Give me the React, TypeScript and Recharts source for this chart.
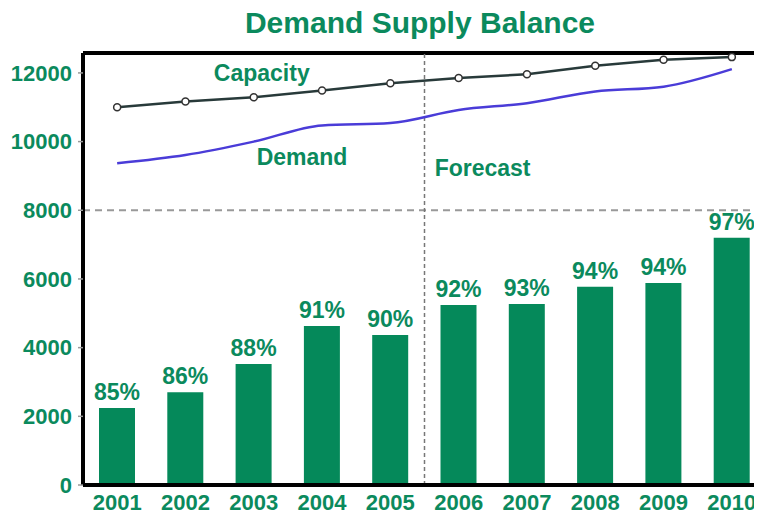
import React from "react";
import {
  Bar,
  ComposedChart,
  LabelList,
  Line,
  ReferenceDot,
  ReferenceLine,
  XAxis,
  YAxis
} from "recharts";

const years = ["2001", "2002", "2003", "2004", "2005", "2006", "2007", "2008", "2009", "2010"];
const production = [2240, 2700, 3520, 4630, 4370, 5240, 5270, 5770, 5880, 7200];
const utilization = [85, 86, 88, 91, 90, 92, 93, 94, 94, 97];
const capacity = [11000, 11170, 11290, 11490, 11700, 11850, 11960, 12210, 12380, 12460];
const demand = [9370, 9610, 10000, 10470, 10540, 10920, 11120, 11460, 11600, 12110];
const yTicks = [0, 2000, 4000, 6000, 8000, 10000, 12000];

const GREEN = "#0b8a5d";
const BAR_GREEN = "#05895a";
const FONT = '"Liberation Sans", Arial, sans-serif';
const Y_MAX = 12580;

const chartData = years.map((year, i) => ({
  year,
  production: production[i],
  pct: utilization[i],
  capacity: capacity[i],
  demand: demand[i]
}));

// text annotations anchored to data coordinates
function note(text: string, dx: number, anchor: "start" | "middle") {
  return (props: any) => (
    <text
      x={props.cx + dx}
      y={props.cy}
      dy="0.36em"
      textAnchor={anchor}
      fill={GREEN}
      fontSize={23}
      fontWeight="bold"
      fontFamily={FONT}
    >
      {text}
    </text>
  );
}

function PctLabel(props: any) {
  const { x, y, width, value } = props;
  return (
    <text
      x={x + width / 2}
      y={y - 8}
      textAnchor="middle"
      fill={GREEN}
      fontSize={23}
      fontWeight="bold"
      fontFamily={FONT}
    >
      {value}%
    </text>
  );
}

export default function App() {
  return (
    <div
      style={{
        margin: "-8px",
        position: "relative",
        width: 762,
        height: 518,
        overflow: "hidden",
        background: "#fff",
        fontFamily: FONT
      }}
    >
      <div
        style={{
          position: "absolute",
          left: 0,
          top: 8,
          width: 840,
          textAlign: "center",
          fontSize: 30,
          lineHeight: "30px",
          fontWeight: "bold",
          color: GREEN
        }}
      >
        Demand Supply Balance
      </div>
      <div style={{ position: "absolute", left: 0, top: 0 }}>
        <ComposedChart
          width={768}
          height={518}
          data={chartData}
          margin={{ top: 53, right: 2, left: 0, bottom: 0 }}
        >
          <XAxis
            dataKey="year"
            height={33}
            tickSize={0}
            tickMargin={9}
            axisLine={{ stroke: "#000", strokeWidth: 4 }}
            tick={{ fill: GREEN, fontSize: 22, fontWeight: "bold", fontFamily: FONT }}
            interval={0}
          />
          <YAxis
            width={83}
            domain={[0, Y_MAX]}
            ticks={yTicks}
            tickSize={5}
            tickMargin={6}
            axisLine={{ stroke: "#000", strokeWidth: 4 }}
            tickLine={{ stroke: "#999", strokeWidth: 1.5 }}
            tick={{ fill: GREEN, fontSize: 22, fontWeight: "bold", fontFamily: FONT }}
          />
          <ReferenceLine y={Y_MAX} stroke="#000" strokeWidth={4} />
          <ReferenceLine y={8000} stroke="#999" strokeWidth={2} strokeDasharray="7 5" />
          <ReferenceLine
            x="2005"
            position="end"
            stroke="#777"
            strokeWidth={1.5}
            strokeDasharray="4 3"
          />
          <Bar dataKey="production" fill={BAR_GREEN} barSize={36} isAnimationActive={false}>
            <LabelList dataKey="pct" content={PctLabel} />
          </Bar>
          <Line
            type="monotone"
            dataKey="demand"
            stroke="#4a3cd8"
            strokeWidth={2.5}
            dot={false}
            isAnimationActive={false}
          />
          <Line
            type="linear"
            dataKey="capacity"
            stroke="#283a3a"
            strokeWidth={2.5}
            dot={{ r: 3.5, fill: "#fff", stroke: "#333", strokeWidth: 1.5 }}
            isAnimationActive={false}
          />
          <ReferenceDot x="2003" y={12000} r={0} shape={note("Capacity", 8, "middle")} />
          <ReferenceDot x="2004" y={9550} r={0} shape={note("Demand", -20, "middle")} />
          <ReferenceDot x="2006" y={9230} r={0} shape={note("Forecast", -24, "start")} />
        </ComposedChart>
      </div>
    </div>
  );
}
